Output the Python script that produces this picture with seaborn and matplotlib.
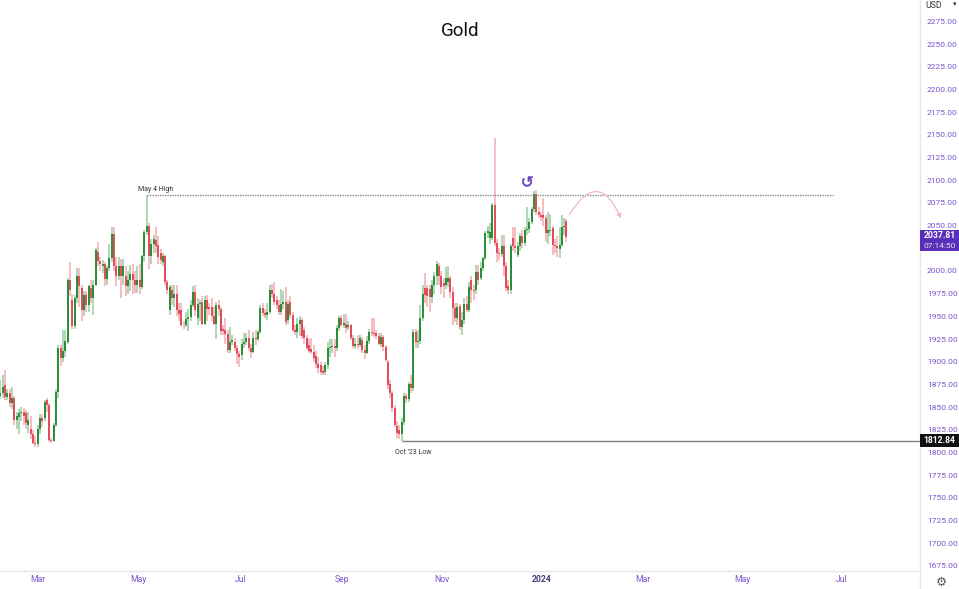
import numpy as np
import pandas as pd
import matplotlib
matplotlib.use("Agg")
import matplotlib.pyplot as plt
import seaborn as sns

opens = [1862,1866,1874,1861,1866,1854,1860,1836,1839,1843,
1845,1843,1830,1826,1820,1810,1809,1826,1838,1838,
1858,1852,1814,1813,1830,1867,1915,1904,1912,1922,
1990,1968,1939,1970,1994,1981,1957,1973,1962,1981,
1970,1985,2021,2011,2005,2008,1991,2003,2014,2041,
2005,1995,2005,1994,1994,1983,1990,1997,1990,1985,
1990,1982,2016,2043,2050,2016,2030,2034,2029,2020,
2010,2016,1988,1957,1979,1970,1975,1957,1957,1941,
1941,1947,1949,1963,1977,1948,1964,1966,1942,1968,
1960,1960,1950,1942,1962,1958,1936,1935,1931,1913,
1922,1922,1915,1908,1907,1920,1922,1926,1915,1911,
1926,1925,1933,1959,1954,1952,1955,1979,1975,1968,
1963,1955,1964,1966,1946,1966,1951,1935,1933,1942,
1946,1935,1926,1918,1914,1911,1906,1897,1896,1890,
1889,1896,1915,1916,1917,1915,1937,1948,1941,1942,
1938,1940,1926,1917,1919,1918,1924,1913,1910,1923,
1933,1932,1932,1928,1920,1927,1916,1900,1876,1865,
1849,1829,1825,1820,1834,1862,1859,1875,1871,1933,
1922,1923,1948,1981,1981,1980,1971,1985,1994,2006,
1995,1987,1985,1988,1992,1977,1959,1948,1961,1938,
1946,1964,1957,1990,1979,1979,1999,1992,2003,2014,
2042,2036,2036,2073,2031,2020,2019,2028,2005,1983,
1979,2036,2027,2018,2028,2039,2031,2045,2046,2054,
2068,2085,2065,2062,2062,2058,2042,2044,2047,2029,
2027,2024,2029,2048,2055]

closes = [1866,1872,1861,1866,1854,1860,1836,1840,1843,1845,
1840,1832,1836,1820,1810,1809,1826,1838,1835,1856,
1852,1814,1813,1830,1867,1915,1904,1912,1923,1990,
1979,1939,1970,1994,1983,1957,1973,1962,1983,1970,
1985,2023,2011,2008,2008,1991,2003,2014,2041,2005,
1994,2005,1994,2006,1983,1990,1997,1990,1985,1990,
1982,2016,2043,2050,2016,2030,2035,2028,2015,2012,
2016,1988,1979,1982,1970,1975,1957,1953,1941,1940,
1947,1949,1963,1977,1957,1964,1965,1942,1968,1958,
1958,1950,1942,1962,1958,1934,1934,1931,1913,1922,
1924,1915,1908,1905,1920,1922,1926,1915,1911,1926,
1925,1933,1959,1954,1952,1955,1979,1975,1966,1963,
1955,1964,1966,1944,1964,1951,1935,1933,1942,1946,
1928,1926,1915,1912,1911,1904,1897,1893,1889,1888,
1896,1915,1916,1917,1915,1937,1948,1941,1943,1937,
1940,1926,1917,1919,1918,1926,1913,1910,1923,1933,
1932,1931,1928,1920,1927,1916,1902,1874,1865,1849,
1830,1821,1820,1834,1862,1859,1875,1871,1933,1922,
1923,1948,1975,1973,1972,1971,1985,1994,2008,1995,
1982,1983,1992,1992,1977,1959,1948,1960,1938,1946,
1964,1957,1982,1979,1978,1999,1990,2003,2014,2042,
2044,2043,2073,2031,2020,2019,2028,2005,1981,1979,
2027,2027,2025,2028,2039,2031,2045,2046,2054,2068,
2085,2065,2062,2060,2058,2042,2045,2045,2029,2027,
2025,2029,2048,2050,2037.81]

highs = [1880,1885,1891,1870,1870,1872,1862,1845,1848,1850,
1849,1847,1845,1840,1825,1818,1830,1842,1842,1858,
1860,1854,1816,1832,1870,1918,1918,1935,1935,1992,
2010,1975,1973,2003,2003,1985,1978,1978,1985,1990,
1990,2025,2032,2015,2012,2010,2006,2030,2049,2049,
2015,2015,2013,2013,2005,2000,2007,2008,2000,2005,
2008,2018,2045,2084,2053,2035,2040,2048,2038,2024,
2020,2018,1990,1985,1985,1985,1985,1965,1965,1945,
1955,1958,1968,1983,1985,1970,1968,1972,1972,1973,
1965,1970,1960,1966,1968,1960,1940,1948,1935,1938,
1930,1926,1918,1912,1925,1932,1932,1935,1920,1933,
1935,1935,1962,1965,1958,1965,1985,1986,1988,1972,
1968,1980,1978,1982,1968,1972,1955,1940,1948,1950,
1948,1938,1930,1925,1926,1918,1912,1905,1900,1895,
1900,1922,1925,1925,1925,1940,1950,1952,1953,1953,
1945,1942,1930,1926,1930,1930,1927,1918,1928,1936,
1948,1948,1935,1932,1932,1930,1918,1902,1880,1868,
1852,1835,1830,1838,1865,1865,1878,1885,1936,1936,
1935,1962,1985,1998,1985,1985,1990,1999,2011,2009,
2000,1992,2004,2005,1995,1982,1965,1965,1964,1955,
1970,1972,1988,1994,1985,2007,2007,2010,2015,2044,
2050,2053,2075,2147,2035,2025,2040,2040,2010,1990,
2030,2048,2048,2032,2042,2045,2048,2070,2058,2070,
2088,2089,2070,2065,2080,2062,2065,2063,2050,2035,
2038,2048,2062,2058,2057]

lows = [1859,1860,1858,1858,1850,1848,1830,1826,1820,1835,
1830,1826,1822,1815,1809,1806,1806,1820,1828,1835,
1845,1812,1810,1811,1828,1860,1895,1900,1905,1920,
1972,1936,1936,1965,1960,1945,1950,1955,1955,1965,
1951,1983,2005,2000,1998,1983,1985,2000,2010,2000,
1983,1990,1970,1985,1972,1975,1978,1975,1976,1976,
1975,1980,2010,2040,2002,2008,2020,2020,2008,2008,
2005,1985,1975,1952,1962,1960,1950,1945,1938,1936,
1938,1934,1945,1960,1950,1940,1945,1940,1940,1945,
1952,1945,1940,1925,1950,1930,1930,1920,1910,1910,
1918,1912,1898,1894,1902,1915,1918,1912,1904,1910,
1918,1923,1931,1950,1948,1946,1953,1970,1962,1958,
1952,1952,1958,1941,1942,1948,1933,1930,1926,1928,
1925,1920,1913,1910,1908,1900,1893,1888,1885,1885,
1885,1892,1905,1910,1905,1912,1934,1938,1937,1932,
1935,1924,1915,1914,1914,1916,1910,1903,1908,1920,
1928,1927,1925,1918,1916,1912,1900,1870,1860,1845,
1828,1816,1815,1813,1830,1855,1856,1865,1868,1915,
1915,1920,1945,1965,1960,1955,1965,1975,1985,1985,
1975,1970,1980,1982,1970,1940,1944,1940,1935,1929,
1942,1955,1955,1965,1968,1975,1985,1990,2000,2012,
2036,2030,2034,2028,2010,2012,2015,1995,1978,1975,
1975,2022,2020,2015,2022,2025,2028,2040,2042,2052,
2065,2062,2058,2055,2050,2032,2030,2038,2018,2020,
2015,2014,2026,2040,2032]

price_ticks = [2275,2250,2225,2200,2175,2150,2125,2100,2075,2050,2000,1975,1950,1925,
               1900,1875,1850,1825,1800,1775,1750,1725,1700,1675]
month_labels = ["Mar","May","Jul","Sep","Nov","2024","Mar","May","Jul"]
month_positions = [16.2,59.3,103.7,147.2,190.3,233.4,277.0,320.0,362.7]
may_high = 2084
oct_low = 1812.84
last_price = 2037.81

sns.set_theme(style="white")
plt.rcParams["font.family"] = ["Roboto", "DejaVu Sans"]
plt.rcParams["lines.solid_capstyle"] = "butt"

UP, DOWN = "#1a8a2a", "#e2404f"
PURPLE = "#7a55cc"
GRID = "#e6e6ea"

fig = plt.figure(figsize=(9.59, 5.89), dpi=100)
ax = fig.add_axes([0, 18 / 589, 920 / 959, 571 / 589])

n = len(closes)
idx = np.arange(n)
direction = np.where(np.array(closes) >= np.array(opens), "up", "down")
wicks = pd.DataFrame({
    "i": np.r_[idx, idx],
    "price": np.r_[lows, highs],
    "dir": np.r_[direction, direction],
})
bodies = pd.DataFrame({
    "i": np.r_[idx, idx],
    "price": np.r_[opens, closes],
    "dir": np.r_[direction, direction],
})
pal = {"up": UP, "down": DOWN}
sns.lineplot(data=wicks, x="i", y="price", hue="dir", units="i", estimator=None,
             palette=pal, linewidth=1.15, alpha=0.42, legend=False, sort=False, ax=ax)
sns.lineplot(data=bodies, x="i", y="price", hue="dir", units="i", estimator=None,
             palette=pal, linewidth=1.3, legend=False, sort=False, ax=ax)

ax.set_xlim(-0.2, 396.4)
ax.set_ylim(1669.4, 2298.6)
ax.set_xlabel("")
ax.set_ylabel("")

# reference levels
ax.plot([63, 359], [may_high, may_high], color="#8a8a8a", lw=1.0, ls=(0, (1, 0.8)))
ax.plot([173, 396.4], [oct_low, oct_low], color="#808080", lw=1.0)
ax.text(66.8, 2085.5, "May 4 High", fontsize=5.0, ha="center", va="bottom", color="#333333")
ax.text(178, 1800, "Oct '23 Low", fontsize=5.0, ha="center", va="center", color="#333333")

# projected path and marker
ax.annotate("", xy=(267.5, 2058), xytext=(245.2, 2062),
            arrowprops=dict(arrowstyle="->", color="#f2b8bc", lw=0.9,
                            connectionstyle="arc3,rad=-0.95", shrinkA=0, shrinkB=0,
                            mutation_scale=7))
ax.plot([227], [2099], marker=r"$\circlearrowleft$", ms=7.5, color="#6a3fc0", mec="#6a3fc0", mew=0.4)

# axes frame
for s in ["top", "left"]:
    ax.spines[s].set_visible(False)
for s in ["right", "bottom"]:
    ax.spines[s].set_color(GRID)
    ax.spines[s].set_linewidth(1.0)
ax.yaxis.tick_right()
ax.set_yticks(price_ticks)
ax.set_yticklabels([f"{p:.2f}" for p in price_ticks], fontsize=6.0, color=PURPLE)
ax.tick_params(axis="y", length=0, pad=5)
ax.set_xticks(month_positions)
ax.set_xticklabels(month_labels, fontsize=6.2, color=PURPLE)
ax.tick_params(axis="x", length=0, pad=3)
ax.get_xticklabels()[5].set_fontweight("bold")
ax.get_xticklabels()[5].set_color("#4a3a78")

fig.add_artist(plt.Line2D([920/959, 920/959], [0, 18/589], color=GRID, lw=1.0))

# right-hand price tags
tag_tf = ax.get_yaxis_transform()
ax.add_patch(plt.Rectangle((1.0, oct_low - 7), 39 / 920, 14.5, transform=tag_tf,
                           fc="#111111", ec="none", clip_on=False, zorder=4))
ax.add_patch(plt.Rectangle((1.0, last_price - 16), 39 / 920, 23, transform=tag_tf,
                           fc="#5a2fb8", ec="none", clip_on=False, zorder=4))
ax.text(1.0212, oct_low, "1812.84", transform=tag_tf, fontsize=6.2, fontweight="bold", color="white",
        va="center", ha="center", clip_on=False, zorder=5)
ax.text(1.0212, last_price + 1, "2037.81", transform=tag_tf, fontsize=6.2, fontweight="bold",
        color="white", va="center", ha="center", clip_on=False, zorder=5)
ax.text(1.0212, last_price - 10, "07:14:50", transform=tag_tf, fontsize=6.0, color="#e8e0f8",
        va="center", ha="center", clip_on=False, zorder=5)

fig.text(460.5 / 959, 1 - 30.5 / 589, "Gold", fontsize=13.5, ha="center", va="center", color="#111111")
fig.text(925 / 959, 1 - 5 / 589, "USD", fontsize=6.3, ha="left", va="center", color="#333333")
fig.text(955 / 959, 1 - 5 / 589, "▾", fontsize=5, ha="center", va="center", color="#333333")
fig.text(941 / 959, 1 - 582 / 589, "⚙", fontsize=9, ha="center", va="center", color="#555555")

fig.savefig("out.png", dpi=100)
